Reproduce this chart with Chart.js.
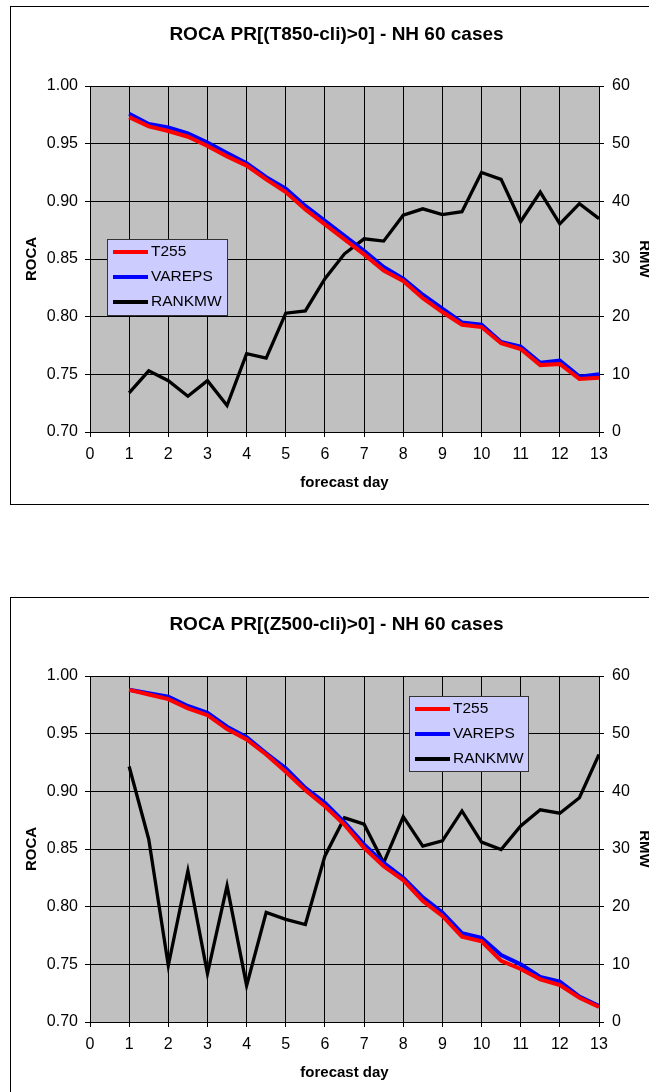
<!DOCTYPE html>
<html>
<head>
<meta charset="utf-8">
<script src="https://cdn.jsdelivr.net/npm/chart.js@4.4.1/dist/chart.umd.min.js"></script>
<style>
  html, body { margin: 0; padding: 0; background: #fff; overflow: hidden; width: 649px; height: 1092px; }
  canvas { position: absolute; left: 0; }
  #chartT850 { top: 0; }
  #chartZ500 { top: 590px; }
</style>
</head>
<body>
<!-- canvases are wider than the window: the frame is cut off at the right, as in the original -->
<canvas id="chartT850" width="673" height="510"></canvas>
<canvas id="chartZ500" width="673" height="510"></canvas>
<script>
// Forecast days (every half day)
const days = [1, 1.5, 2, 2.5, 3, 3.5, 4, 4.5, 5, 5.5, 6, 6.5, 7, 7.5, 8, 8.5, 9, 9.5, 10, 10.5, 11, 11.5, 12, 12.5, 13];

// T850 chart
const t850T255 = [0.973, 0.965, 0.961, 0.956, 0.948, 0.939, 0.931, 0.919, 0.908, 0.893, 0.880, 0.867, 0.854, 0.840, 0.831, 0.816, 0.804, 0.793, 0.791, 0.777, 0.772, 0.758, 0.759, 0.746, 0.747];
const t850Vareps = [0.976, 0.967, 0.964, 0.959, 0.951, 0.942, 0.933, 0.921, 0.911, 0.896, 0.883, 0.870, 0.857, 0.843, 0.833, 0.819, 0.807, 0.795, 0.793, 0.778, 0.774, 0.760, 0.762, 0.748, 0.750];
const t850Rankmw = [6.8, 10.6, 8.9, 6.2, 8.9, 4.6, 13.6, 12.8, 20.6, 21.0, 26.6, 30.9, 33.5, 33.1, 37.6, 38.7, 37.7, 38.2, 45.0, 43.8, 36.5, 41.6, 36.1, 39.6, 37.0];

// Z500 chart
const z500T255 = [0.988, 0.984, 0.980, 0.972, 0.966, 0.954, 0.945, 0.932, 0.917, 0.901, 0.887, 0.871, 0.851, 0.835, 0.823, 0.805, 0.792, 0.774, 0.770, 0.753, 0.746, 0.737, 0.732, 0.721, 0.713];
const z500Vareps = [0.988, 0.985, 0.982, 0.974, 0.968, 0.956, 0.947, 0.933, 0.920, 0.903, 0.890, 0.873, 0.854, 0.838, 0.825, 0.808, 0.795, 0.777, 0.773, 0.758, 0.750, 0.739, 0.735, 0.722, 0.714];
const z500Rankmw = [44.3, 31.7, 9.8, 26.2, 8.4, 23.6, 6.3, 19.0, 17.8, 16.9, 28.8, 35.4, 34.3, 27.6, 35.6, 30.5, 31.4, 36.6, 31.2, 29.9, 34.0, 36.8, 36.2, 38.9, 46.4];

// Labels
const seriesLabels = ['T255', 'VAREPS', 'RANKMW'];

// Colors
const colors = {
    t255: '#FF0000',
    vareps: '#0000FF',
    rankmw: '#000000',
    plot: '#C0C0C0',
    legend: '#CCCCFF'
};

const family = '"Liberation Sans", Arial, sans-serif';
Chart.defaults.font.family = family;
Chart.defaults.color = '#000';

// White page, outer frame and grey plot area
const frameAndPlot = {
    id: 'frameAndPlot',
    beforeDraw(chart, args, opts) {
        const { ctx, chartArea: a } = chart;
        ctx.save();
        ctx.fillStyle = '#fff';
        ctx.fillRect(0, 0, chart.width, chart.height);
        ctx.strokeStyle = '#000';
        ctx.lineWidth = 1;
        ctx.strokeRect(opts.left + 0.5, opts.top + 0.5, chart.width, opts.height);
        ctx.fillStyle = colors.plot;
        ctx.fillRect(a.left, a.top, a.right - a.left, a.bottom - a.top);
        ctx.restore();
    }
};

// Excel-like legend box inside the plot
const boxLegend = {
    id: 'boxLegend',
    afterDraw(chart, args, opts) {
        const ctx = chart.ctx;
        ctx.save();
        ctx.fillStyle = colors.legend;
        ctx.fillRect(opts.x, opts.y, opts.w, opts.h);
        ctx.strokeStyle = '#333';
        ctx.lineWidth = 1;
        ctx.strokeRect(opts.x + 0.5, opts.y + 0.5, opts.w, opts.h);
        ctx.font = '15.5px ' + family;
        ctx.textBaseline = 'middle';
        chart.data.datasets.forEach((ds, i) => {
            const y = opts.y + 13 + i * 25;
            ctx.strokeStyle = ds.borderColor;
            ctx.lineWidth = 4;
            ctx.beginPath();
            ctx.moveTo(opts.x + 6, y);
            ctx.lineTo(opts.x + 41, y);
            ctx.stroke();
            ctx.fillStyle = '#000';
            ctx.fillText(ds.label, opts.x + 44, y);
        });
        ctx.restore();
    }
};

const toPoints = values => days.map((d, i) => ({ x: d, y: values[i] }));

function rocaChart(id, title, t255, vareps, rankmw, legendBox, frame) {
    return new Chart(document.getElementById(id), {
        type: 'line',
        data: {
            datasets: [
                { label: seriesLabels[0], data: toPoints(t255), borderColor: colors.t255, borderWidth: 4, yAxisID: 'y' },
                { label: seriesLabels[1], data: toPoints(vareps), borderColor: colors.vareps, borderWidth: 4, yAxisID: 'y' },
                { label: seriesLabels[2], data: toPoints(rankmw), borderColor: colors.rankmw, borderWidth: 3.3, yAxisID: 'y1' }
            ]
        },
        options: {
            responsive: false,
            animation: false,
            elements: { point: { radius: 0 }, line: { tension: 0 } },
            layout: { padding: 0 },
            plugins: {
                legend: { display: false },
                tooltip: { enabled: false },
                title: {
                    display: true,
                    text: title,
                    color: '#000',
                    font: { size: 19, weight: 'bold' },
                    padding: { top: 23.6, bottom: 39.6 }
                },
                frameAndPlot: frame,
                boxLegend: legendBox
            },
            scales: {
                x: {
                    type: 'linear',
                    min: 0,
                    max: 13,
                    ticks: { stepSize: 1, font: { size: 16 }, padding: 8, maxRotation: 0 },
                    grid: { color: '#000', tickLength: 5 },
                    border: { color: '#000' },
                    title: { display: true, text: 'forecast day', font: { size: 15, weight: 'bold' }, padding: { bottom: 18 } },
                    afterFit: s => { s.height = 78; }
                },
                y: {
                    position: 'left',
                    min: 0.70,
                    max: 1.00,
                    ticks: { stepSize: 0.05, font: { size: 16 }, padding: 7, callback: v => v.toFixed(2) },
                    grid: { color: '#000', tickLength: 5 },
                    border: { color: '#000' },
                    title: { display: true, text: 'ROCA', font: { size: 15, weight: 'bold' }, padding: { top: 23 } },
                    afterFit: s => { s.width = 90; }
                },
                y1: {
                    position: 'right',
                    min: 0,
                    max: 60,
                    ticks: { stepSize: 10, font: { size: 16 }, padding: 8 },
                    grid: { drawOnChartArea: false, color: '#000', tickLength: 5 },
                    border: { color: '#000' },
                    title: { display: true, text: 'RMW', font: { size: 15, weight: 'bold', lineHeight: 1 }, padding: { top: 21.5 } },
                    afterFit: s => { s.width = 74; }
                }
            }
        },
        plugins: [frameAndPlot, boxLegend]
    });
}

rocaChart('chartT850', 'ROCA PR[(T850-cli)>0] - NH 60 cases', t850T255, t850Vareps, t850Rankmw,
    { x: 107, y: 239, w: 120, h: 76 }, { left: 10, top: 6, height: 498 });

rocaChart('chartZ500', 'ROCA PR[(Z500-cli)>0] - NH 60 cases', z500T255, z500Vareps, z500Rankmw,
    { x: 409, y: 106, w: 119, h: 75 }, { left: 10, top: 7, height: 600 });
</script>
</body>
</html>
